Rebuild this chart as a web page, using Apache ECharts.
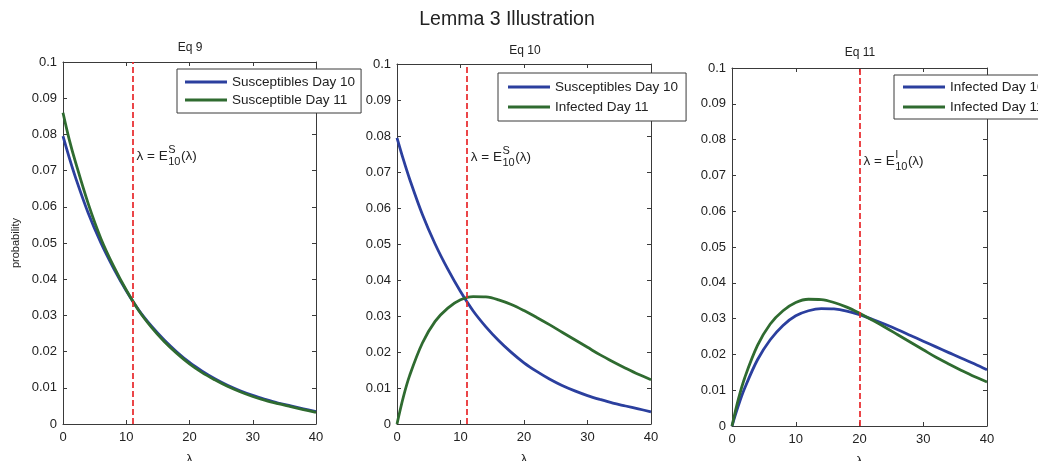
<!DOCTYPE html>
<html>
<head>
<meta charset="utf-8">
<script src="https://cdn.jsdelivr.net/npm/echarts@6/dist/echarts.min.js"></script>
<style>
html,body{margin:0;padding:0;background:#fff;}
#chart{width:1038px;height:461px;}
</style>
</head>
<body>
<div id="chart"></div>
<script>
// ---- data ----
const lambdaVals   = [0, 1, 2, 4, 6, 8, 10, 12, 14, 16, 18, 20, 22, 24, 26, 28, 30, 32, 34, 36, 38, 40];
const susDay10     = [0.0795, 0.0735, 0.0680, 0.0582, 0.0500, 0.0430, 0.0368, 0.0314, 0.0270, 0.0232, 0.0199, 0.0170, 0.0146, 0.0125, 0.0107, 0.0092, 0.0079, 0.0068, 0.0058, 0.0050, 0.0042, 0.0034];
const susDay11     = [0.0860, 0.0785, 0.0722, 0.0608, 0.0512, 0.0436, 0.0370, 0.0313, 0.0267, 0.0228, 0.0195, 0.0166, 0.0142, 0.0122, 0.0104, 0.0089, 0.0076, 0.0065, 0.0056, 0.0048, 0.0040, 0.0032];
const infDay11     = [0.0000, 0.0075, 0.0135, 0.0225, 0.0285, 0.0322, 0.0345, 0.0354, 0.0353, 0.0345, 0.0332, 0.0315, 0.0296, 0.0276, 0.0255, 0.0234, 0.0213, 0.0192, 0.0173, 0.0155, 0.0138, 0.0123];
const infDay10     = [0.0000, 0.0057, 0.0106, 0.0185, 0.0241, 0.0281, 0.0308, 0.0322, 0.0328, 0.0327, 0.0321, 0.0311, 0.0298, 0.0284, 0.0269, 0.0253, 0.0237, 0.0221, 0.0205, 0.0189, 0.0174, 0.0157];
const eqLambda     = [11, 11, 20];
const panelTitles  = ['Eq 9', 'Eq 10', 'Eq 11'];
const annotSup     = ['S', 'S', 'I'];
const legendNames  = [
  ['Susceptibles Day 10', 'Susceptible Day 11'],
  ['Susceptibles Day 10', 'Infected Day 11'],
  ['Infected Day 10', 'Infected Day 11']
];
const panelSeries  = [[susDay10, susDay11], [susDay10, infDay11], [infDay10, infDay11]];
const xTicks       = {min: 0, max: 40, interval: 10};
const yTicks       = {min: 0, max: 0.1, interval: 0.01};
const annotY       = 0.0740;

// ---- styling / layout ----
const FONT = '"Liberation Sans", Arial, Helvetica, sans-serif';
const BLUE = '#2b3f9e';
const GREEN = '#2f6b30';
const RED = '#e8262a';
const AX = '#3a3a3a';
const grids = [
  {left: 63, top: 62, width: 253, height: 362},
  {left: 397, top: 64, width: 254, height: 360},
  {left: 732, top: 68, width: 255, height: 358}
];
const legendPos = [
  {left: 177, top: 69, padding: [6, 6, 6, 8], itemGap: 4},
  {left: 498, top: 73, padding: [7, 8, 7, 10], itemGap: 6},
  {left: 894, top: 75, padding: [5, 8, 5, 9], itemGap: 6}
];
const titleCenters = [[190, 48], [525, 51], [860, 53]];

const chart = echarts.init(document.getElementById('chart'), null, {renderer: 'canvas'});

const xAxes = [], yAxes = [], series = [], legends = [];
grids.forEach((g, i) => {
  const base = {
    type: 'value', gridIndex: i,
    axisLine: {show: true, onZero: false, lineStyle: {color: AX, width: 1}},
    axisTick: {show: true, inside: true, length: 4, lineStyle: {color: AX}},
    splitLine: {show: false}
  };
  xAxes.push(Object.assign({}, base, xTicks, {
    position: 'bottom',
    name: 'λ', nameLocation: 'middle', nameGap: 29,
    nameTextStyle: {fontFamily: FONT, fontSize: 13, color: '#222'},
    axisLabel: {show: true, margin: 7, fontFamily: FONT, fontSize: 13, color: '#222', showMinLabel: true, showMaxLabel: true}
  }));
  xAxes.push(Object.assign({}, base, xTicks, {position: 'top', axisLabel: {show: false}}));
  const yl = Object.assign({}, base, yTicks, {
    position: 'left',
    axisLabel: {show: true, margin: 6, fontFamily: FONT, fontSize: 13, color: '#222',
      formatter: v => String(+v.toFixed(2)), showMinLabel: true, showMaxLabel: true}
  });
  if (i === 0) {
    yl.name = 'probability';
    yl.nameLocation = 'middle';
    yl.nameGap = 42;
    yl.nameTextStyle = {fontFamily: FONT, fontSize: 11, color: '#222'};
  }
  yAxes.push(yl);
  yAxes.push(Object.assign({}, base, yTicks, {position: 'right', axisLabel: {show: false}}));

  const cols = [BLUE, GREEN];
  panelSeries[i].forEach((arr, k) => {
    const s = {
      type: 'line', name: legendNames[i][k],
      xAxisIndex: 2 * i, yAxisIndex: 2 * i,
      data: lambdaVals.map((x, j) => [x, arr[j]]),
      smooth: 0.35, symbol: 'none', showSymbol: false,
      lineStyle: {color: cols[k], width: 2.8},
      itemStyle: {color: cols[k]},
      z: 3 + k
    };
    if (k === 1) {
      s.markLine = {
        silent: true, symbol: 'none', animation: false,
        label: {show: false},
        lineStyle: {color: RED, type: [6, 3], width: 1.7},
        data: [{xAxis: eqLambda[i]}]
      };
    }
    series.push(s);
  });

  legends.push({
    data: legendNames[i].map(n => ({name: n, icon: 'rect'})), orient: 'vertical',
    left: legendPos[i].left, top: legendPos[i].top,
    padding: legendPos[i].padding, itemGap: legendPos[i].itemGap,
    itemWidth: 42, itemHeight: 3,
    backgroundColor: '#fff', borderColor: AX, borderWidth: 1, borderRadius: 0,
    selectedMode: false,
    textStyle: {fontFamily: FONT, fontSize: 13.5, color: '#222', lineHeight: 14},
    z: 10
  });
});

const graphics = [
  {type: 'text', x: 507, y: 20, style: {text: 'Lemma 3 Illustration', font: '19.5px ' + FONT, fill: '#222', textAlign: 'center', textVerticalAlign: 'middle'}}
];
panelTitles.forEach((t, i) => {
  graphics.push({type: 'text', x: titleCenters[i][0], y: titleCenters[i][1],
    style: {text: t, font: '12px ' + FONT, fill: '#222', textAlign: 'center', textVerticalAlign: 'middle'}});
});

chart.setOption({
  animation: false,
  backgroundColor: '#fff',
  grid: grids.map(g => Object.assign({containLabel: false, outerBoundsMode: 'none'}, g)),
  xAxis: xAxes,
  yAxis: yAxes,
  legend: legends,
  series: series,
  graphic: graphics
});

// annotations "λ = E^S_10(λ)" placed through the axes' scales
const ctx = document.createElement('canvas').getContext('2d');
function tw(text, font) { ctx.font = font; return ctx.measureText(text).width; }
const mainFont = '13.5px ' + FONT, smallFont = '11px ' + FONT;
eqLambda.forEach((lx, i) => {
  const p = chart.convertToPixel({gridIndex: i}, [lx, annotY]);
  let x = p[0] + 4, y = p[1];
  const t1 = 'λ = E';
  graphics.push({type: 'text', x: x, y: y, z: 20, style: {text: t1, font: mainFont, fill: '#222', textVerticalAlign: 'middle'}});
  x += tw(t1, mainFont) + 0.5;
  graphics.push({type: 'text', x: x, y: y - 6.5, z: 20, style: {text: annotSup[i], font: smallFont, fill: '#222', textVerticalAlign: 'middle'}});
  graphics.push({type: 'text', x: x, y: y + 5.5, z: 20, style: {text: '10', font: smallFont, fill: '#222', textVerticalAlign: 'middle'}});
  x += Math.max(tw(annotSup[i], smallFont), tw('10', smallFont)) + 0.5;
  graphics.push({type: 'text', x: x, y: y, z: 20, style: {text: '(λ)', font: mainFont, fill: '#222', textVerticalAlign: 'middle'}});
});
chart.setOption({graphic: graphics});
</script>
</body>
</html>
